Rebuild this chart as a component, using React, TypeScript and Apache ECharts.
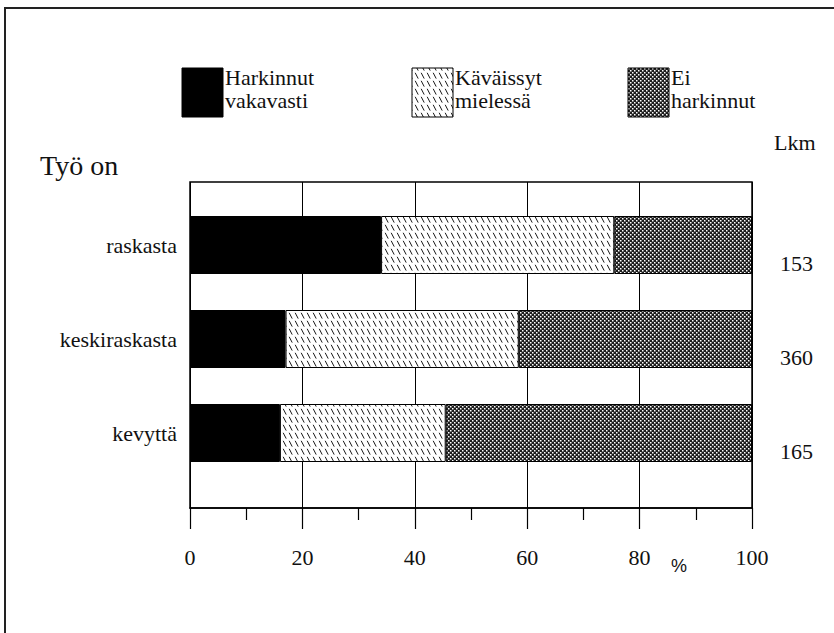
import React, { useEffect, useRef } from "react";
import * as echarts from "echarts";

const categories = ["raskasta", "keskiraskasta", "kevyttä"];
const counts = ["153", "360", "165"];
const seriesNames = ["Harkinnut\nvakavasti", "Käväissyt\nmielessä", "Ei\nharkinnut"];
const harkinnutVakavasti = [34, 17, 16];
const kavaissytMielessa = [41.5, 41.5, 29.5];
const eiHarkinnut = [24.5, 41.5, 54.5];
const xTicks = [0, 20, 40, 60, 80, 100];

const FONT = "Liberation Serif";

function makeHatch(): HTMLCanvasElement {
  const c = document.createElement("canvas");
  c.width = 6;
  c.height = 8;
  const g = c.getContext("2d")!;
  g.fillStyle = "#ffffff";
  g.fillRect(0, 0, 6, 8);
  g.strokeStyle = "#1a1a1a";
  g.lineWidth = 1;
  g.beginPath();
  g.moveTo(1.2, 0.8);
  g.lineTo(4.2, 6.6);
  g.stroke();
  return c;
}

function makeDots(): HTMLCanvasElement {
  const c = document.createElement("canvas");
  c.width = 4;
  c.height = 4;
  const g = c.getContext("2d")!;
  g.fillStyle = "#1e1e1e";
  g.fillRect(0, 0, 4, 4);
  g.fillStyle = "#ffffff";
  g.fillRect(0, 0, 1.5, 1.5);
  g.fillRect(2, 2, 1.5, 1.5);
  return c;
}

export default function App() {
  const ref = useRef<HTMLDivElement>(null);
  useEffect(() => {
    if (!ref.current) return;
    const chart = echarts.init(ref.current, undefined, { renderer: "svg" });
    const hatch = { image: makeHatch(), repeat: "repeat" };
    const dots = { image: makeDots(), repeat: "repeat" };
    const fills: any[] = ["#000000", hatch, dots];
    const values = [harkinnutVakavasti, kavaissytMielessa, eiHarkinnut];

    const legendX = [182, 412, 628];
    const legendGraphics: any[] = [];
    seriesNames.forEach((name, i) => {
      legendGraphics.push({
        type: "rect",
        shape: { x: legendX[i], y: 68, width: 41, height: 49 },
        style: { fill: fills[i], stroke: "#000", lineWidth: 1 },
      });
      legendGraphics.push({
        type: "text",
        x: legendX[i] + 43,
        y: 66,
        style: {
          text: name,
          fontSize: 22,
          fontFamily: FONT,
          fill: "#111",
          lineHeight: 23,
          verticalAlign: "top",
        },
      });
    });

    const option: any = {
      animation: false,
      backgroundColor: "#ffffff",
      textStyle: { fontFamily: FONT, color: "#111" },
      grid: [
        { left: 190, right: 82, top: 182, bottom: 125, show: true, borderColor: "#000", borderWidth: 1.5, backgroundColor: "transparent" },
        { left: 190, right: 82, top: 198, height: 282 },
        { left: 190, right: 82, top: 216, height: 282 },
      ],
      xAxis: [
        {
          gridIndex: 0,
          type: "value",
          min: 0,
          max: 100,
          interval: 20,
          axisLine: { show: true, lineStyle: { color: "#000", width: 1.5 } },
          axisTick: { show: true, inside: false, length: 21, lineStyle: { color: "#000", width: 1.2 } },
          minorTick: { show: true, splitNumber: 2, length: 12, lineStyle: { color: "#000", width: 1.2 } },
          splitLine: { show: true, lineStyle: { color: "#000", width: 1 } },
          axisLabel: {
            margin: 38,
            fontSize: 22,
            fontFamily: FONT,
            color: "#111",
            formatter: (v: number) => (xTicks.indexOf(v) >= 0 ? String(v) : ""),
          },
        },
        { gridIndex: 1, type: "value", min: 0, max: 100, show: false },
        { gridIndex: 2, type: "value", min: 0, max: 100, show: false },
      ],
      yAxis: [
        { gridIndex: 0, type: "value", min: 0, max: 1, show: false },
        {
          gridIndex: 1,
          type: "category",
          inverse: true,
          data: categories,
          axisLine: { show: false },
          axisTick: { show: false },
          splitLine: { show: false },
          axisLabel: { margin: 13, fontSize: 22, fontFamily: FONT, color: "#111" },
        },
        {
          gridIndex: 2,
          type: "category",
          inverse: true,
          position: "right",
          data: counts,
          axisLine: { show: false },
          axisTick: { show: false },
          splitLine: { show: false },
          axisLabel: { margin: 28, fontSize: 22, fontFamily: FONT, color: "#111" },
        },
      ],
      series: seriesNames.map((name, i) => ({
        name,
        type: "bar",
        stack: "total",
        xAxisIndex: 1,
        yAxisIndex: 1,
        barWidth: 58,
        data: values[i],
        itemStyle: { color: fills[i], borderColor: "#000", borderWidth: 1 },
      })),
      graphic: [
        {
          type: "rect",
          shape: { x: 5, y: 8, width: 860, height: 660 },
          style: { fill: "none", stroke: "#222", lineWidth: 2 },
        },
        {
          type: "text",
          x: 40,
          y: 179,
          style: { text: "Työ on", fontSize: 28, fontFamily: FONT, fill: "#111", verticalAlign: "bottom" },
        },
        {
          type: "text",
          x: 774,
          y: 153,
          style: { text: "Lkm", fontSize: 22, fontFamily: FONT, fill: "#111", verticalAlign: "bottom" },
        },
        {
          type: "text",
          x: 671,
          y: 575,
          style: { text: "%", fontSize: 18, fontFamily: "Liberation Sans", fill: "#111", verticalAlign: "bottom" },
        },
        ...legendGraphics,
      ],
    };
    chart.setOption(option);
    return () => chart.dispose();
  }, []);
  return <div ref={ref} style={{ width: 834, height: 633, position: "absolute", left: 0, top: 0 }} />;
}
